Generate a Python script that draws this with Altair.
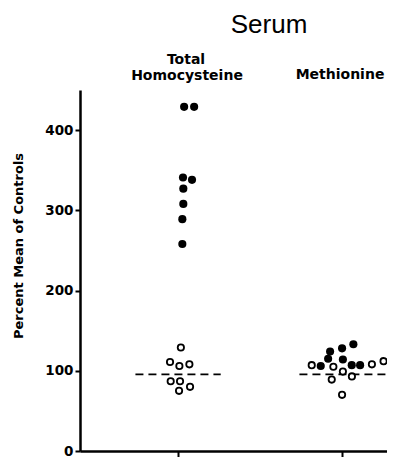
import altair as alt
import pandas as pd

# --- data ---
# group positions on the x axis (0 = Total Homocysteine, 1 = Methionine)
groups = ["Total Homocysteine", "Methionine"]
group_pos = [0, 1]

# patients (filled circles): value (% mean of controls) and horizontal jitter
hcy_pat_val = [429, 429, 341, 338, 327, 308, 289, 258]
hcy_pat_jit = [0.037, 0.098, 0.030, 0.085, 0.032, 0.032, 0.026, 0.026]
met_pat_val = [106, 124, 115, 128, 133, 114, 107, 107]
met_pat_jit = [-0.13, -0.073, -0.085, 0.0, 0.069, 0.005, 0.059, 0.110]

# controls (open circles)
hcy_ctl_val = [129, 111, 106, 108, 87, 87, 80, 75]
hcy_ctl_jit = [0.017, -0.049, 0.008, 0.069, -0.045, 0.012, 0.073, 0.006]
met_ctl_val = [107, 105, 99, 93, 89, 70, 108, 112]
met_ctl_jit = [-0.185, -0.053, 0.005, 0.060, -0.063, 0.0, 0.182, 0.253]

# control mean (dashed reference lines) and their extent
ref_val = [95.5, 95.5]
ref_from = [-0.26, -0.26]
ref_to = [0.26, 0.33]

y_ticks = [0, 100, 200, 300, 400]

pat = pd.DataFrame({
    "x": [group_pos[0] + j for j in hcy_pat_jit] + [group_pos[1] + j for j in met_pat_jit],
    "v": hcy_pat_val + met_pat_val,
})
ctl = pd.DataFrame({
    "x": [group_pos[0] + j for j in hcy_ctl_jit] + [group_pos[1] + j for j in met_ctl_jit],
    "v": hcy_ctl_val + met_ctl_val,
})
ref = pd.DataFrame({
    "x": [p + a for p, a in zip(group_pos, ref_from)],
    "x2": [p + b for p, b in zip(group_pos, ref_to)],
    "v": ref_val,
})

xs = alt.Scale(domain=[-0.598, 1.274], nice=False, zero=False)
ys = alt.Scale(domain=[0, 450], nice=False, zero=True)

x_axis = alt.Axis(values=group_pos, labels=False, title=None, grid=False,
                  tickSize=6, tickWidth=2, tickColor="black",
                  domainWidth=2.5, domainColor="black")
y_axis = alt.Axis(values=y_ticks, title=None, grid=False,
                  tickSize=5, tickWidth=2, tickColor="black",
                  domainWidth=2.5, domainColor="black",
                  labelFont="DejaVu Sans", labelFontWeight="bold",
                  labelFontSize=13.5, labelColor="black", labelPadding=2)

rules = alt.Chart(ref).mark_rule(color="black", strokeWidth=1.6, strokeDash=[8, 5]).encode(
    x=alt.X("x:Q", scale=xs, axis=x_axis),
    x2="x2:Q",
    y=alt.Y("v:Q", scale=ys, axis=y_axis),
)

open_pts = alt.Chart(ctl).mark_point(shape="circle", filled=False, fill="white",
                                      fillOpacity=1, stroke="black", strokeWidth=1.8,
                                      size=40, opacity=1).encode(
    x=alt.X("x:Q", scale=xs), y=alt.Y("v:Q", scale=ys))

filled_pts = alt.Chart(pat).mark_circle(color="black", size=66, opacity=1).encode(
    x=alt.X("x:Q", scale=xs), y=alt.Y("v:Q", scale=ys))

def label(txt, px, py, size, weight="bold", font="DejaVu Sans", angle=0, baseline="alphabetic"):
    return alt.Chart(pd.DataFrame({"t": [txt]})).mark_text(
        font=font, fontSize=size, fontWeight=weight, color="black",
        align="center", baseline=baseline, angle=angle,
    ).encode(text="t:N", x=alt.value(px), y=alt.value(py))

texts = [
    label("Serum", 189, -57, 26, weight="normal", font="Liberation Sans"),
    label("Total", 106, -26, 14),
    label("Homocysteine", 107, -10, 14),
    label(groups[1], 260, -11, 14),
    label("Percent Mean of Controls", -61, 156, 13, angle=270, baseline="middle"),
]

chart = alt.layer(rules, open_pts, filled_pts, *texts).properties(
    width=307, height=361,
    autosize=alt.AutoSizeParams(type="none"),
    padding={"left": 72, "top": 82, "right": 0, "bottom": 6},
).configure_view(stroke=None)

chart.save("out.html", embed_options={"renderer": "svg", "actions": False})
